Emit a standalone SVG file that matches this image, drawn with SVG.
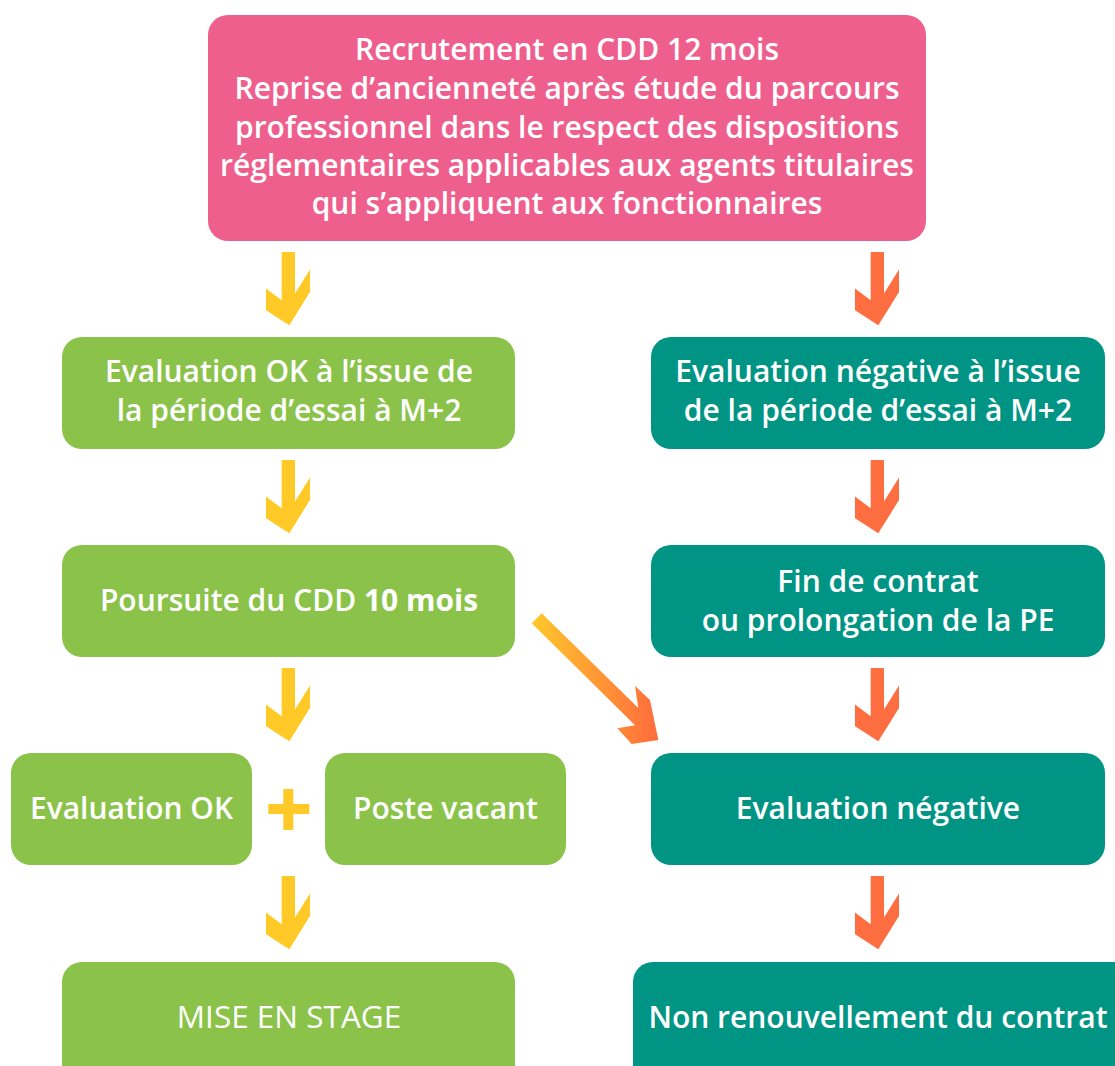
<svg xmlns="http://www.w3.org/2000/svg" width="1115" height="1066" viewBox="0 0 1115 1066">
<style>
.pink{fill:#EF5F8E}
.green{fill:#8BC34A}
.teal{fill:#009485}
.t{font-family:"Open Sans","Noto Sans",sans-serif;font-size:30px;font-weight:600;fill:#fff;text-anchor:middle}
.r{font-weight:400;font-size:31.5px}
.b{font-weight:700}
.ya{fill:#FFCA28}
.oa{fill:#FF6E40}
</style>
<defs>
<path id="arr" d="M0,0 L13.3,0 L13.3,41.6 L28.3,17.6 L28.3,40 L7.6,73.3 L-15.7,58.3 L-15.7,36.6 L0,48.3 Z"/>
<linearGradient id="dg" gradientUnits="userSpaceOnUse" x1="532" y1="0" x2="659" y2="0">
<stop offset="0" stop-color="#FFC82C"/>
<stop offset="1" stop-color="#FF6B3D"/>
</linearGradient>
</defs>
<rect width="1115" height="1066" fill="#fff"/>
<g id="connectors">
<use href="#arr" class="ya" x="281.7" y="252"/>
<use href="#arr" class="ya" x="281.7" y="460"/>
<use href="#arr" class="ya" x="281.7" y="668"/>
<use href="#arr" class="ya" x="281.7" y="876"/>
<use href="#arr" class="oa" x="870.7" y="252"/>
<use href="#arr" class="oa" x="870.7" y="460"/>
<use href="#arr" class="oa" x="870.7" y="668"/>
<use href="#arr" class="oa" x="870.7" y="876"/>
<polygon points="541.7,613.3 638.3,708 635,686 650,700 658.3,740 631.7,744 617.3,728.3 635,725.3 531.7,623.3" fill="url(#dg)"/>
</g>
<g id="top">
<rect class="pink" x="208" y="15" width="718" height="226" rx="20"/>
<text class="t" x="567" y="60">Recrutement en CDD 12 mois</text>
<text class="t" x="567" y="99">Reprise d’ancienneté après étude du parcours</text>
<text class="t" x="567" y="138">professionnel dans le respect des dispositions</text>
<text class="t" x="567" y="176">réglementaires applicables aux agents titulaires</text>
<text class="t" x="567" y="214">qui s’appliquent aux fonctionnaires</text>
</g>
<g id="evalOk">
<rect class="green" x="62" y="337" width="453" height="112" rx="20"/>
<text class="t" x="289" y="382">Evaluation OK à l’issue de</text>
<text class="t" x="289" y="421">la période d’essai à M+2</text>
</g>
<g id="evalNeg">
<rect class="teal" x="651" y="337" width="454" height="112" rx="20"/>
<text class="t" x="878" y="382">Evaluation négative à l’issue</text>
<text class="t" x="878" y="421">de la période d’essai à M+2</text>
</g>
<g id="poursuite">
<rect class="green" x="62" y="545" width="453" height="112" rx="20"/>
<text class="t" x="289" y="611">Poursuite du CDD <tspan class="b">10 mois</tspan></text>
</g>
<g id="finContrat">
<rect class="teal" x="651" y="545" width="454" height="112" rx="20"/>
<text class="t" x="878" y="592">Fin de contrat</text>
<text class="t" x="878" y="631">ou prolongation de la PE</text>
</g>
<g id="evalOk2">
<rect class="green" x="11" y="753" width="241" height="112" rx="20"/>
<text class="t" x="131.5" y="819">Evaluation OK</text>
</g>
<g id="plus">
<rect class="ya" x="283.3" y="789" width="10" height="41"/>
<rect class="ya" x="268.3" y="804" width="41" height="10"/>
</g>
<g id="poste">
<rect class="green" x="325" y="753" width="241" height="112" rx="20"/>
<text class="t" x="445.5" y="819">Poste vacant</text>
</g>
<g id="evalNeg2">
<rect class="teal" x="651" y="753" width="454" height="112" rx="20"/>
<text class="t" x="878" y="819">Evaluation négative</text>
</g>
<g id="stage">
<rect class="green" x="62" y="962" width="453" height="130" rx="20"/>
<text class="t r" x="289" y="1028">MISE EN STAGE</text>
</g>
<g id="nonRenouv">
<rect class="teal" x="633" y="962" width="500" height="130" rx="20"/>
<text class="t" x="878" y="1028">Non renouvellement du contrat</text>
</g>
</svg>
